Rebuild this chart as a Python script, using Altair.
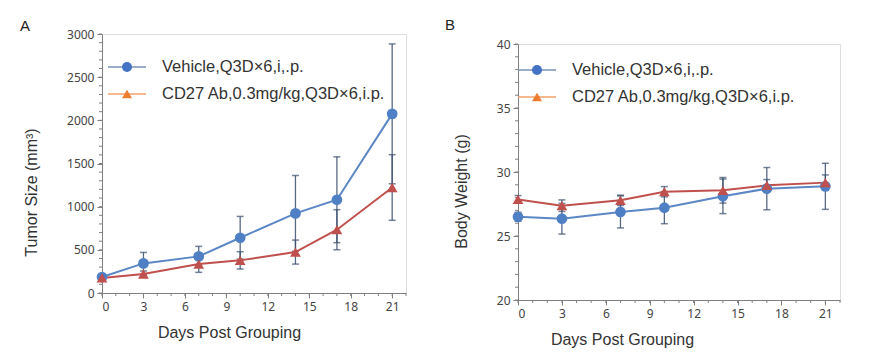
import altair as alt
import pandas as pd

# ---- data ----
days = [0, 3, 7, 10, 14, 17, 21]
series_names = ["Vehicle,Q3D×6,i,.p.", "CD27 Ab,0.3mg/kg,Q3D×6,i.p."]

veh_tumor = [185, 343, 424, 640, 922, 1080, 2075]
veh_tumor_err = [25, 127, 116, 247, 439, 497, 810]
cd27_tumor = [175, 220, 335, 378, 474, 733, 1222]
cd27_tumor_err = [20, 35, 96, 100, 139, 232, 380]

veh_bw = [26.5, 26.35, 26.88, 27.21, 28.10, 28.70, 28.88]
veh_bw_err = [0.35, 1.2, 1.25, 1.25, 1.35, 1.65, 1.8]
cd27_bw = [27.86, 27.37, 27.79, 28.46, 28.57, 28.96, 29.17]
cd27_bw_err = [0.3, 0.45, 0.4, 0.4, 1.0, 0.45, 0.6]

x_ticks = [0, 3, 6, 9, 12, 15, 18, 21]
x_minor = list(range(0, 23))
tumor_ticks = [0, 500, 1000, 1500, 2000, 2500, 3000]
tumor_minor = list(range(0, 3001, 100))
bw_ticks = [20, 25, 30, 35, 40]
bw_minor = list(range(20, 41))

BLUE = "#4F7FC4"
BLUE_LINE = "#5B87C5"
RED = "#C0504D"
ERR = "#3B4F6E"
AX = "#808080"
LABEL_FONT = "Noto Sans"
TEXT_FONT = "Liberation Sans"


def make_df(a, ae, b, be):
    rows = []
    for name, vals, errs in [(series_names[0], a, ae), (series_names[1], b, be)]:
        for d, v, e in zip(days, vals, errs):
            rows.append({"day": d, "value": v, "lo": v - e, "hi": v + e, "series": name})
    return pd.DataFrame(rows)


def panel(df, y_domain, y_ticks, y_minor, y_title, w, h, label, lab_xy, leg_xy,
          x_title_x, y_title_y):
    xs = alt.Scale(domain=[0, 22], nice=False, zero=False)
    ys = alt.Scale(domain=y_domain, nice=False, zero=False)
    xax = alt.Axis(values=x_ticks, title="Days Post Grouping", grid=False,
                   domainColor=AX, tickColor=AX, tickSize=5, labelFont=LABEL_FONT,
                   labelFontSize=12, labelColor="#444", titleFont=TEXT_FONT,
                   titleFontSize=16, titleFontWeight="normal", titleColor="#333",
                   titlePadding=12, labelPadding=3, titleX=x_title_x, titleAlign="center")
    yax = alt.Axis(values=y_ticks, title=y_title, grid=False, format="d",
                   domainColor=AX, tickColor=AX, tickSize=5, labelFont=LABEL_FONT,
                   labelFontSize=12, labelColor="#444", titleFont=TEXT_FONT,
                   titleFontSize=16, titleFontWeight="normal", titleColor="#333",
                   titlePadding=27, labelPadding=3, titleY=y_title_y, titleAlign="center")
    color = alt.Scale(domain=series_names, range=[BLUE_LINE, RED])
    shape = alt.Scale(domain=series_names, range=["circle", "triangle-up"])
    fill = alt.Scale(domain=series_names, range=[BLUE, RED])

    base = alt.Chart(df)
    ymin = pd.DataFrame({"v": y_minor})
    xmin = pd.DataFrame({"v": x_minor})
    minor_y = alt.Chart(ymin).mark_rule(color=AX, strokeWidth=1).encode(
        y=alt.Y("v:Q", scale=ys, axis=yax), x=alt.value(-3), x2=alt.value(0))
    minor_x = alt.Chart(xmin).mark_rule(color=AX, strokeWidth=1).encode(
        x=alt.X("v:Q", scale=xs, axis=xax), y=alt.value(h), y2=alt.value(h + 3))

    err_rule = base.mark_rule(color=ERR, strokeWidth=1.3, opacity=0.85).encode(
        x=alt.X("day:Q", scale=xs, axis=xax),
        y=alt.Y("lo:Q", scale=ys, axis=yax), y2="hi:Q")
    cap_lo = base.mark_tick(color=ERR, orient="horizontal", size=7, thickness=1.5).encode(
        x=alt.X("day:Q", scale=xs), y=alt.Y("lo:Q", scale=ys))
    cap_hi = base.mark_tick(color=ERR, orient="horizontal", size=7, thickness=1.5).encode(
        x=alt.X("day:Q", scale=xs), y=alt.Y("hi:Q", scale=ys))
    lines = base.mark_line(strokeWidth=2).encode(
        x=alt.X("day:Q", scale=xs), y=alt.Y("value:Q", scale=ys),
        color=alt.Color("series:N", scale=color, legend=None), detail="series:N")
    pts = base.mark_point(filled=True, opacity=1, size=115).encode(
        x=alt.X("day:Q", scale=xs), y=alt.Y("value:Q", scale=ys),
        shape=alt.Shape("series:N", scale=shape, legend=None),
        fill=alt.Fill("series:N", scale=fill, legend=None),
        color=alt.value(None))

    lx, ly = leg_xy
    one = pd.DataFrame({"a": [0]})
    leg = []
    for i, (lc, mc, shp, txt) in enumerate([
        ("#7891B5", "#4472C4", "circle", series_names[0]),
        ("#F2A06A", "#ED7D31", "triangle-up", series_names[1]),
    ]):
        yy = ly + i * 27
        leg.append(alt.Chart(one).mark_rule(color=lc, strokeWidth=1.5).encode(
            x=alt.value(lx), x2=alt.value(lx + 38), y=alt.value(yy)))
        leg.append(alt.Chart(one).mark_point(filled=True, opacity=1, size=100, shape=shp,
                                             color=mc).encode(
            x=alt.value(lx + 19), y=alt.value(yy)))
        leg.append(alt.Chart(one).mark_text(text=txt, align="left", baseline="middle",
                                            font=TEXT_FONT, fontSize=16.5, color="#333").encode(
            x=alt.value(lx + 54), y=alt.value(yy)))
    lab = alt.Chart(one).mark_text(text=label, align="center", baseline="middle",
                                   font=TEXT_FONT, fontSize=15, color="#222").encode(
        x=alt.value(lab_xy[0]), y=alt.value(lab_xy[1]))

    return alt.layer(minor_y, minor_x, err_rule, cap_lo, cap_hi, lines, pts, *leg, lab).properties(
        width=w, height=h)


tumor_df = make_df(veh_tumor, veh_tumor_err, cd27_tumor, cd27_tumor_err)
bw_df = make_df(veh_bw, veh_bw_err, cd27_bw, cd27_bw_err)

A = panel(tumor_df, [0, 3000], tumor_ticks, tumor_minor, "Tumor Size (mm³)", 304, 259,
          "A", (-77, -8), (6, 33), 127, 158)
B = panel(bw_df, [20, 40], bw_ticks, bw_minor, "Body Weight (g)", 322, 256,
          "B", (-68, -19), (0, 26), 104, 147)

spacer = alt.Chart(pd.DataFrame({"a": [0]})).mark_text(text="", opacity=0).encode(
    x=alt.value(0), y=alt.value(0)).properties(
    width=322, height=1, view=alt.ViewBackground(stroke="transparent", strokeWidth=0))

right = alt.vconcat(spacer, B, spacing=9, bounds="flush")

chart = alt.hconcat(A, right, spacing=37).properties(
    padding={"left": 11, "top": 9, "right": 5, "bottom": 2}
).configure_view(strokeWidth=0, stroke="transparent").configure(background="white")

chart.save("out.html", embed_options={"renderer": "svg", "actions": False})
